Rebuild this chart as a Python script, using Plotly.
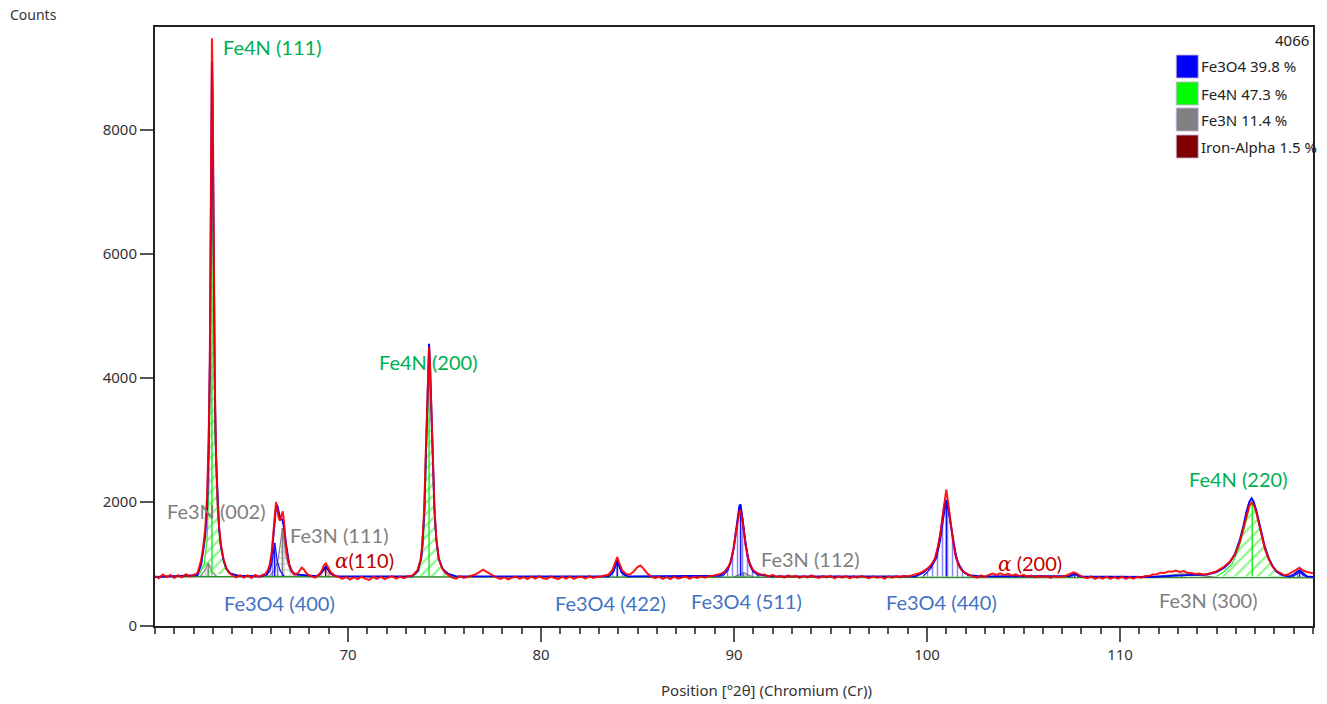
import plotly.graph_objects as go

# ---------------- data ----------------
x_range = [60, 120]
y_range = [0, 9660]
x_ticks = [70, 80, 90, 100, 110]
y_ticks = [0, 2000, 4000, 6000, 8000]

# observed pattern (2theta, counts)
observed = [
    (60.0, 805), (60.2, 770), (60.4, 830), (60.6, 790), (60.8, 822), (61.0, 775),
    (61.2, 818), (61.4, 785), (61.6, 836), (61.8, 795), (62.0, 825), (62.2, 850),
    (62.3, 960), (62.4, 1080), (62.5, 1280), (62.6, 1560), (62.7, 2100), (62.78, 3000),
    (62.84, 4300), (62.88, 6000), (62.92, 8200), (62.95, 9480), (62.98, 8900), (63.02, 7200),
    (63.06, 5200), (63.1, 3900), (63.16, 2800), (63.24, 2000), (63.32, 1600), (63.42, 1300),
    (63.55, 1080), (63.7, 930), (63.85, 850), (64.0, 820), (64.2, 785), (64.4, 820),
    (64.6, 780), (64.8, 815), (65.0, 775), (65.2, 822), (65.4, 790), (65.6, 830),
    (65.7, 835), (65.85, 900), (65.95, 1000), (66.05, 1200), (66.12, 1450), (66.2, 1800),
    (66.27, 2000), (66.33, 1900), (66.4, 1750), (66.47, 1700), (66.55, 1800), (66.62, 1850),
    (66.68, 1700), (66.75, 1400), (66.85, 1150), (66.95, 980), (67.1, 880), (67.25, 830),
    (67.4, 850), (67.5, 900), (67.6, 940), (67.7, 920), (67.8, 870), (67.95, 820),
    (68.1, 800), (68.3, 780), (68.5, 830), (68.65, 900), (68.75, 980), (68.85, 1010),
    (68.95, 960), (69.1, 870), (69.3, 810), (69.5, 795), (69.7, 760), (69.9, 790),
    (70.1, 750), (70.3, 785), (70.5, 755), (70.7, 795), (70.9, 760), (71.1, 745),
    (71.3, 790), (71.5, 760), (71.7, 795), (71.9, 755), (72.1, 785), (72.3, 800),
    (72.5, 765), (72.7, 795), (72.9, 770), (73.1, 805), (73.3, 810), (73.4, 830),
    (73.6, 900), (73.75, 1050), (73.85, 1300), (73.95, 1900), (74.03, 2800), (74.1, 3700),
    (74.16, 4400), (74.2, 4500), (74.25, 4200), (74.32, 3500), (74.4, 2600), (74.48, 1900),
    (74.58, 1400), (74.7, 1100), (74.85, 950), (75.0, 870), (75.2, 820), (75.4, 780),
    (75.6, 765), (75.8, 805), (76.0, 775), (76.2, 795), (76.4, 805), (76.6, 830),
    (76.8, 870), (77.0, 910), (77.1, 890), (77.3, 850), (77.5, 810), (77.7, 780),
    (77.9, 760), (78.1, 785), (78.3, 750), (78.5, 780), (78.7, 795), (78.9, 760),
    (79.1, 790), (79.3, 755), (79.5, 795), (79.7, 765), (79.9, 805), (80.1, 770),
    (80.3, 760), (80.5, 800), (80.7, 775), (80.9, 755), (81.1, 795), (81.3, 765),
    (81.5, 800), (81.7, 760), (81.9, 790), (82.1, 795), (82.3, 765), (82.5, 805),
    (82.7, 775), (82.9, 795), (83.1, 800), (83.3, 815), (83.5, 830), (83.7, 900),
    (83.85, 1030), (83.95, 1110), (84.05, 1020), (84.2, 900), (84.4, 840), (84.6, 830),
    (84.8, 880), (85.0, 950), (85.15, 975), (85.3, 930), (85.5, 850), (85.7, 800),
    (85.9, 770), (86.1, 795), (86.3, 760), (86.5, 790), (86.7, 755), (86.9, 795),
    (87.1, 765), (87.3, 785), (87.5, 800), (87.7, 760), (87.9, 795), (88.1, 775),
    (88.3, 800), (88.5, 780), (88.7, 805), (88.9, 810), (89.1, 820), (89.3, 840),
    (89.5, 870), (89.7, 950), (89.85, 1050), (89.98, 1250), (90.1, 1500), (90.2, 1720),
    (90.28, 1850), (90.35, 1860), (90.42, 1750), (90.5, 1550), (90.6, 1300), (90.72, 1100),
    (90.85, 980), (91.0, 900), (91.2, 850), (91.4, 830), (91.6, 825), (91.8, 795),
    (92.0, 825), (92.2, 790), (92.4, 810), (92.6, 780), (92.8, 815), (93.0, 790),
    (93.2, 810), (93.4, 775), (93.6, 805), (93.8, 785), (94.0, 815), (94.2, 790),
    (94.4, 775), (94.6, 805), (94.8, 785), (95.0, 810), (95.2, 770), (95.4, 800),
    (95.6, 780), (95.8, 805), (96.0, 770), (96.2, 800), (96.4, 780), (96.6, 805),
    (96.8, 785), (97.0, 770), (97.2, 800), (97.4, 780), (97.6, 795), (97.8, 765),
    (98.0, 800), (98.2, 780), (98.4, 805), (98.6, 785), (98.8, 810), (99.0, 800),
    (99.2, 815), (99.4, 830), (99.6, 850), (99.8, 880), (100.0, 920), (100.2, 980),
    (100.4, 1080), (100.55, 1250), (100.7, 1500), (100.82, 1800), (100.92, 2050), (101.0, 2200),
    (101.07, 2050), (101.15, 1850), (101.25, 1600), (101.38, 1300), (101.5, 1100), (101.65, 970),
    (101.8, 900), (102.0, 850), (102.2, 820), (102.4, 800), (102.6, 780), (102.8, 815),
    (103.0, 790), (103.2, 825), (103.4, 845), (103.6, 825), (103.8, 850), (104.0, 820),
    (104.2, 840), (104.4, 810), (104.6, 835), (104.8, 805), (105.0, 825), (105.2, 795),
    (105.4, 815), (105.6, 785), (105.8, 810), (106.0, 790), (106.2, 805), (106.4, 775),
    (106.6, 805), (106.8, 785), (107.0, 800), (107.2, 810), (107.4, 840), (107.6, 865),
    (107.75, 850), (107.9, 815), (108.1, 790), (108.3, 770), (108.5, 800), (108.7, 760),
    (108.9, 790), (109.1, 765), (109.3, 795), (109.5, 760), (109.7, 790), (109.9, 765),
    (110.1, 795), (110.3, 760), (110.5, 790), (110.7, 765), (110.9, 795), (111.1, 780),
    (111.3, 805), (111.5, 805), (111.7, 830), (111.9, 835), (112.1, 860), (112.3, 855),
    (112.5, 880), (112.7, 875), (112.9, 895), (113.1, 870), (113.3, 885), (113.5, 855),
    (113.7, 855), (113.9, 840), (114.1, 845), (114.3, 830), (114.5, 835), (114.7, 850),
    (114.9, 870), (115.1, 900), (115.4, 960), (115.7, 1040), (115.95, 1150), (116.2, 1350),
    (116.4, 1580), (116.55, 1780), (116.7, 1940), (116.82, 1990), (116.92, 1960), (117.05, 1850),
    (117.2, 1650), (117.35, 1450), (117.5, 1250), (117.7, 1080), (117.9, 960), (118.1, 890),
    (118.3, 850), (118.5, 820), (118.7, 830), (118.9, 860), (119.1, 900), (119.3, 940),
    (119.5, 890), (119.7, 870), (119.9, 860), (120.0, 850),
]

# calculated (fitted) profile
calculated = [
    (60.0, 790), (62.2, 820), (62.4, 1000), (62.6, 1450), (62.7, 1900), (62.78, 2900),
    (62.84, 4200), (62.88, 5900), (62.92, 8000), (62.95, 9100), (62.98, 8600), (63.02, 7000),
    (63.06, 5100), (63.1, 3800), (63.16, 2750), (63.24, 2000), (63.32, 1580), (63.42, 1280),
    (63.55, 1060), (63.7, 920), (63.9, 850), (64.3, 810), (65.5, 800), (65.8, 840),
    (65.95, 950), (66.05, 1150), (66.15, 1500), (66.25, 1850), (66.33, 1950), (66.42, 1820),
    (66.5, 1720), (66.6, 1720), (66.7, 1550), (66.8, 1300), (66.95, 1000), (67.1, 880),
    (67.3, 830), (68.4, 805), (68.6, 850), (68.75, 920), (68.85, 960), (68.95, 920),
    (69.1, 850), (69.4, 800), (73.3, 800), (73.6, 880), (73.8, 1100), (73.95, 1800),
    (74.05, 2900), (74.12, 3900), (74.17, 4450), (74.2, 4550), (74.25, 4200), (74.32, 3450),
    (74.4, 2550), (74.48, 1850), (74.58, 1380), (74.7, 1080), (74.9, 920), (75.2, 840),
    (75.6, 800), (83.5, 800), (83.75, 880), (83.88, 990), (83.95, 1060), (84.05, 980),
    (84.2, 860), (84.5, 800), (89.3, 810), (89.6, 900), (89.8, 1000), (89.98, 1250),
    (90.1, 1550), (90.2, 1800), (90.28, 1940), (90.34, 1960), (90.42, 1800), (90.5, 1580),
    (90.6, 1320), (90.72, 1100), (90.85, 960), (91.0, 880), (91.3, 830), (91.8, 805),
    (99.4, 800), (99.8, 860), (100.2, 960), (100.45, 1100), (100.65, 1400), (100.8, 1750),
    (100.92, 1970), (101.0, 2030), (101.08, 1950), (101.2, 1700), (101.35, 1380), (101.5, 1120),
    (101.7, 950), (101.9, 870), (102.2, 820), (102.8, 800), (107.4, 805), (107.6, 840),
    (107.75, 830), (107.95, 800), (111.5, 790), (112.5, 810), (113.5, 820), (114.5, 830),
    (115.0, 870), (115.4, 940), (115.7, 1030), (115.95, 1160), (116.2, 1380), (116.4, 1620),
    (116.55, 1840), (116.7, 2000), (116.82, 2060), (116.92, 2010), (117.05, 1880), (117.2, 1680),
    (117.35, 1480), (117.5, 1280), (117.7, 1100), (117.9, 970), (118.1, 880), (118.4, 820),
    (118.8, 800), (119.0, 830), (119.2, 880), (119.3, 900), (119.45, 860), (119.7, 800),
    (120.0, 790),
]

background_x = [60, 120]
background_y = [795, 780]

# individual phase profiles (x list, y list)
fe4n_peaks = [
    ([62.3, 62.55, 62.7, 62.8, 62.86, 62.91, 62.95, 62.99, 63.04, 63.1, 63.2, 63.35, 63.6, 63.9],
     [830, 1000, 1400, 2300, 4000, 6500, 8900, 7500, 4800, 3300, 2100, 1350, 980, 840]),
    ([73.4, 73.7, 73.9, 74.0, 74.08, 74.15, 74.2, 74.26, 74.34, 74.42, 74.52, 74.7, 75.0, 75.3],
     [800, 900, 1300, 2000, 3100, 4100, 4400, 4050, 3200, 2300, 1600, 1080, 870, 810]),
    ([115.0, 115.4, 115.8, 116.1, 116.35, 116.55, 116.72, 116.85, 117.0, 117.2, 117.4, 117.65, 117.95, 118.3, 118.6],
     [800, 880, 1000, 1200, 1470, 1720, 1930, 2000, 1900, 1640, 1380, 1120, 930, 840, 800]),
]
fe3n_peaks = [
    ([62.35, 62.55, 62.76, 62.95, 63.2], [800, 880, 1020, 880, 800]),
    ([65.9, 66.2, 66.4, 66.52, 66.6, 66.68, 66.8, 67.0, 67.2], [800, 900, 1100, 1400, 1580, 1400, 1100, 900, 810]),
    ([90.0, 90.3, 90.5, 90.7, 91.0], [790, 830, 860, 830, 790]),
    ([111.5, 112.5, 113.2, 114.0, 115.0], [785, 820, 840, 820, 785]),
]
fe3o4_peaks = [
    ([65.7, 65.95, 66.08, 66.15, 66.2, 66.25, 66.33, 66.5, 66.7], [800, 880, 1050, 1250, 1340, 1250, 1050, 880, 800]),
    ([83.5, 83.75, 83.88, 83.95, 84.02, 84.15, 84.4], [795, 870, 980, 1050, 980, 870, 795]),
    ([89.4, 89.7, 89.95, 90.12, 90.25, 90.34, 90.43, 90.56, 90.75, 91.0, 91.3],
     [800, 900, 1180, 1550, 1850, 1930, 1780, 1450, 1080, 880, 800]),
    ([99.8, 100.2, 100.5, 100.7, 100.85, 100.95, 101.0, 101.08, 101.2, 101.38, 101.6, 101.9, 102.2],
     [800, 930, 1100, 1380, 1720, 1950, 2000, 1920, 1680, 1330, 1030, 870, 800]),
    ([107.3, 107.5, 107.65, 107.8, 108.0], [785, 810, 830, 810, 785]),
    ([118.9, 119.15, 119.3, 119.45, 119.7], [782, 830, 870, 830, 782]),
]
alpha_peaks = [
    ([68.4, 68.65, 68.84, 69.05, 69.3], [795, 860, 950, 860, 795]),
]

# legend content
legend_names = ["Fe3O4 39.8 %", "Fe4N 47.3 %", "Fe3N 11.4 %", "Iron-Alpha 1.5 %"]
legend_colors = ["#0000FF", "#00FF00", "#808080", "#800000"]
scale_label = "4066"

# peak labels: text, x, y (left edge / vertical centre), colour group
ALPHA = "<span style=\"font-family:DejaVu Serif\"><i>α</i></span>"
label_text = ["Fe4N (111)", "Fe3N (002)", "Fe3N (111)", ALPHA + "(110)",
              "Fe3O4 (400)", "Fe4N (200)", "Fe3O4 (422)", "Fe3O4 (511)", "Fe3N (112)",
              "Fe3O4 (440)", ALPHA + " (200)", "Fe3N (300)", "Fe4N (220)"]
label_x = [63.42, 60.52, 66.88, 69.21, 63.47, 71.48, 80.64, 87.67, 91.29, 97.76, 103.6, 111.93, 113.48]
label_y = [9338, 1855, 1468, 1064, 371, 4258, 371, 403, 1080, 387, 1016, 419, 2371]
label_group = ["Fe4N", "Fe3N", "Fe3N", "alpha", "Fe3O4", "Fe4N", "Fe3O4", "Fe3O4", "Fe3N",
               "Fe3O4", "alpha", "Fe3N", "Fe4N"]

# ---------------- styling ----------------
label_colors = {"Fe4N": "#00B050", "Fe3N": "#7F7F7F", "Fe3O4": "#4472C4", "alpha": "#C00000"}
phase_styles = [
    (fe3n_peaks, "#808080", "+", 6, 0.3),
    (fe3o4_peaks, "#1010FF", "|", 5, 0.3),
    (alpha_peaks, "#800000", "x", 6, 0.3),
    (fe4n_peaks, "#22EE22", "/", 8, 0.3),
]

L, R, T, B = 155, 12, 27, 78
W, H = 1327, 704
PW, PH = W - L - R, H - T - B


def paper_x(px):
    return (px - L) / PW


def paper_y(py):
    return (H - B - py) / PH


fig = go.Figure()

for peaks, color, shape, size, sol in phase_styles:
    for xs, ys in peaks:
        fig.add_trace(go.Scatter(
            x=xs, y=ys, mode="lines", fill="toself",
            fillcolor="rgba(0,0,0,0)",
            fillpattern=dict(shape=shape, fgcolor=color, bgcolor="rgba(0,0,0,0)", size=size, solidity=sol),
            line=dict(color=color, width=1.2), hoverinfo="skip", showlegend=False))
    # stick at each peak maximum
    sx, sy = [], []
    for xs, ys in peaks:
        i = ys.index(max(ys))
        sx += [xs[i], xs[i], None]
        sy += [ys[0], ys[i], None]
    fig.add_trace(go.Scatter(x=sx, y=sy, mode="lines", line=dict(color=color, width=1.5),
                             hoverinfo="skip", showlegend=False))

fig.add_trace(go.Scatter(x=background_x, y=background_y, mode="lines",
                         line=dict(color="#2E8B2E", width=1.5), showlegend=False))
fig.add_trace(go.Scatter(x=[p[0] for p in calculated], y=[p[1] for p in calculated], mode="lines",
                         line=dict(color="#0000FF", width=1.9), showlegend=False))
fig.add_trace(go.Scatter(x=[p[0] for p in observed], y=[p[1] for p in observed], mode="lines",
                         line=dict(color="#FF0000", width=2), opacity=0.9, showlegend=False))

annotations = []
for t, x, y, g in zip(label_text, label_x, label_y, label_group):
    annotations.append(dict(x=x, y=y, xref="x", yref="y", text=t, showarrow=False,
                            xanchor="left", yanchor="middle",
                            font=dict(family="Lato", size=20, color=label_colors[g])))

shapes = []
row_tops = [55, 82, 108, 135]
for name, col, top in zip(legend_names, legend_colors, row_tops):
    shapes.append(dict(type="rect", xref="paper", yref="paper",
                       x0=paper_x(1178), x1=paper_x(1200), y0=paper_y(top + 23), y1=paper_y(top),
                       fillcolor=col, line=dict(color="rgba(190,180,220,0.9)", width=1)))
    annotations.append(dict(x=paper_x(1201), y=paper_y(top + 11.5), xref="paper", yref="paper",
                            text=name, showarrow=False, xanchor="left", yanchor="middle",
                            font=dict(family="Noto Sans", size=15, color="#222")))
annotations.append(dict(x=paper_x(1313), y=paper_y(40), xref="paper", yref="paper", text=scale_label,
                        showarrow=False, xanchor="right", yanchor="middle",
                        font=dict(family="Noto Sans", size=15, color="#222")))
annotations.append(dict(x=paper_x(8), y=paper_y(14), xref="paper", yref="paper", text="Counts",
                        showarrow=False, xanchor="left", yanchor="middle",
                        font=dict(family="Noto Sans", size=14, color="#333")))
annotations.append(dict(x=paper_x(768), y=paper_y(690), xref="paper", yref="paper",
                        text="Position [°2θ] (Chromium (Cr))",
                        showarrow=False, xanchor="center", yanchor="middle",
                        font=dict(family="Noto Sans", size=15, color="#333")))

fig.update_layout(
    width=W, height=H, margin=dict(l=L, r=R, t=T, b=B),
    paper_bgcolor="white", plot_bgcolor="white",
    showlegend=False, annotations=annotations, shapes=shapes,
    xaxis=dict(range=x_range, tickvals=x_ticks, ticks="outside", ticklen=14, tickwidth=1.5,
               tickcolor="#555", showline=True, linecolor="#222", linewidth=2, mirror=True,
               showgrid=False, zeroline=False,
               tickfont=dict(family="Noto Sans", size=15, color="#333"),
               minor=dict(tick0=60, dtick=1, ticks="outside", ticklen=6, tickcolor="#555", showgrid=False)),
    yaxis=dict(range=y_range, tickvals=y_ticks, ticks="outside", ticklen=13, tickwidth=1.5,
               tickcolor="#555", showline=True, linecolor="#222", linewidth=2, mirror=True,
               showgrid=False, zeroline=False,
               tickfont=dict(family="Noto Sans", size=15, color="#333")),
)

fig.write_html("out.html")
